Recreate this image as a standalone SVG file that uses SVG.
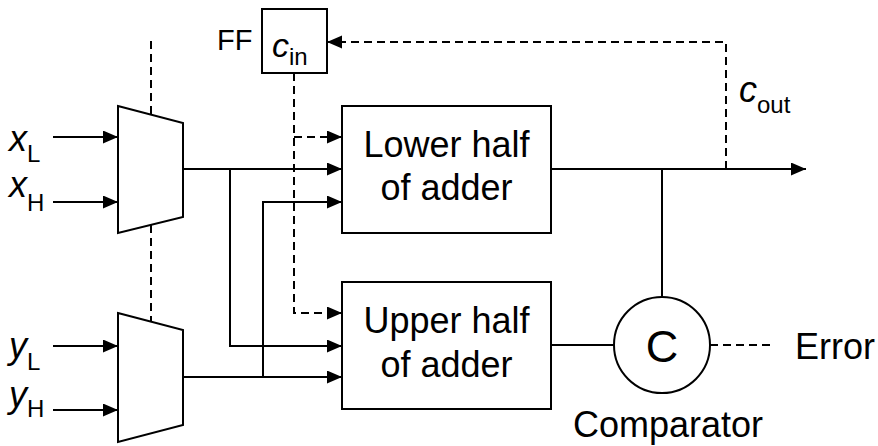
<svg xmlns="http://www.w3.org/2000/svg" width="878" height="446" viewBox="0 0 878 446">
<style>
.s{fill:none;stroke:#000;stroke-width:2}
.d{fill:none;stroke:#000;stroke-width:2;stroke-dasharray:8,5}
.n{fill:#fff;stroke:#000;stroke-width:2}
text{font-family:"Liberation Sans",Arial,sans-serif;fill:#000}
.t{font-size:36px}
.i{font-style:italic}
.sub{font-style:normal;font-size:24px}
</style>
<defs>
<marker id="ah" markerUnits="userSpaceOnUse" markerWidth="16" markerHeight="14" refX="15" refY="6.5" orient="auto">
<path d="M0,0 L15,6.5 L0,13 z" fill="#000"/>
</marker>
</defs>
<rect width="878" height="446" fill="#fff"/>
<g id="connectors">
<line class="s" x1="53" y1="137" x2="118" y2="137" marker-end="url(#ah)"/>
<line class="s" x1="53" y1="202" x2="118" y2="202" marker-end="url(#ah)"/>
<line class="s" x1="53" y1="346" x2="118" y2="346" marker-end="url(#ah)"/>
<line class="s" x1="53" y1="410" x2="118" y2="410" marker-end="url(#ah)"/>
<line class="s" x1="183" y1="169" x2="342" y2="169" marker-end="url(#ah)"/>
<polyline class="s" points="230,169 230,346 342,346" marker-end="url(#ah)"/>
<line class="s" x1="183" y1="377" x2="342" y2="377" marker-end="url(#ah)"/>
<polyline class="s" points="263,377 263,202 342,202" marker-end="url(#ah)"/>
<line class="s" x1="551" y1="169" x2="806" y2="169" marker-end="url(#ah)"/>
<line class="s" x1="662" y1="169" x2="662" y2="297"/>
<line class="s" x1="551" y1="345" x2="614" y2="345"/>
<line class="d" x1="710" y1="345" x2="773" y2="345"/>
<polyline class="d" points="726,169 726,42 327,42" marker-end="url(#ah)"/>
<polyline class="d" points="294,73 294,313 342,313" marker-end="url(#ah)"/>
<line class="d" x1="294" y1="137" x2="342" y2="137" marker-end="url(#ah)"/>
<line class="d" x1="151" y1="41" x2="151" y2="114"/>
<line class="d" x1="151" y1="225" x2="151" y2="322"/>
</g>
<g id="mux1"><polygon class="n" points="118,106 183,123 183,217 118,233"/></g>
<g id="mux2"><polygon class="n" points="118,313 183,330 183,425 118,442"/></g>
<g id="ff">
<rect class="n" x="262" y="9" width="65" height="64"/>
<text x="217" y="50" style="font-size:29px">FF</text>
<text x="272" y="57" class="i" style="font-size:34px">c<tspan class="sub" dy="8">in</tspan></text>
</g>
<g id="lower">
<rect class="n" x="342" y="106" width="209" height="127"/>
<text class="t" x="446.5" y="157" text-anchor="middle">Lower half</text>
<text class="t" x="446.5" y="200" text-anchor="middle">of adder</text>
</g>
<g id="upper">
<rect class="n" x="342" y="282" width="209" height="127"/>
<text class="t" x="446.5" y="333" text-anchor="middle">Upper half</text>
<text class="t" x="446.5" y="377" text-anchor="middle">of adder</text>
</g>
<g id="comparator">
<circle class="n" cx="662" cy="345" r="48"/>
<text x="662" y="362" text-anchor="middle" style="font-size:45px">C</text>
<text class="t" x="668" y="437" text-anchor="middle">Comparator</text>
</g>
<g id="labels">
<text class="t i" x="9" y="151">x<tspan class="sub" dy="11">L</tspan></text>
<text class="t i" x="9" y="197">x<tspan class="sub" dy="14">H</tspan></text>
<text class="t i" x="9" y="358">y<tspan class="sub" dy="12">L</tspan></text>
<text class="t i" x="9" y="407">y<tspan class="sub" dy="10">H</tspan></text>
<text class="t i" x="739" y="102">c<tspan class="sub" dy="11">out</tspan></text>
<text class="t" x="795" y="359">Error</text>
</g>
</svg>
